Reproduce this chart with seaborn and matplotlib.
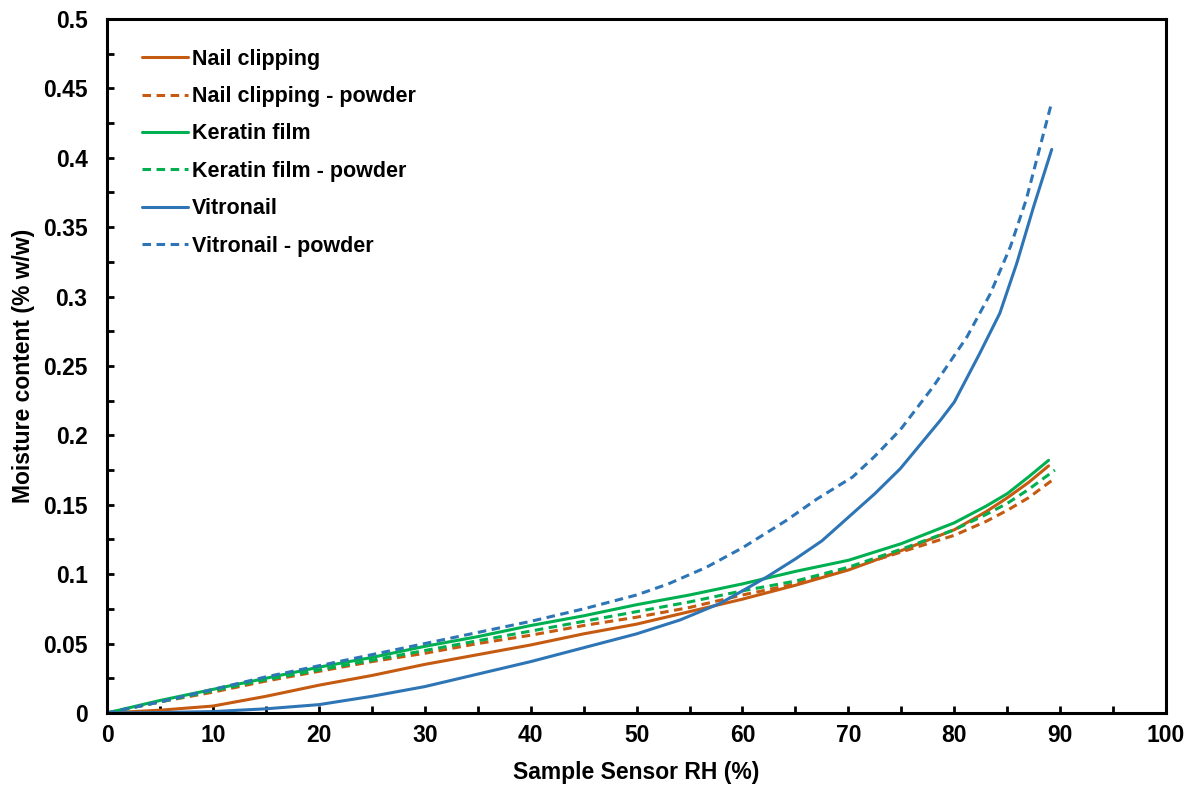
import pandas as pd
import matplotlib.pyplot as plt
from matplotlib.ticker import MultipleLocator
import seaborn as sns

# RH (%) sample points and moisture content (% w/w)
rh_nail = [0, 5, 10, 15, 20, 25, 30, 35, 40, 45, 50, 55, 60, 65, 70, 75, 80, 83, 85, 87, 88.9]
nail = [0, 0.002, 0.005, 0.012, 0.020, 0.027, 0.035, 0.042, 0.049, 0.057, 0.064,
        0.073, 0.082, 0.092, 0.103, 0.117, 0.132, 0.145, 0.155, 0.166, 0.178]

rh_nail_p = [0, 5, 10, 15, 20, 25, 30, 35, 40, 45, 50, 55, 60, 65, 70, 75, 80, 83, 85, 87, 89.3]
nail_p = [0, 0.008, 0.015, 0.023, 0.030, 0.037, 0.043, 0.050, 0.056, 0.063, 0.069,
          0.076, 0.085, 0.093, 0.104, 0.116, 0.128, 0.138, 0.146, 0.155, 0.168]

rh_ker = [0, 5, 10, 15, 20, 25, 30, 35, 40, 45, 50, 55, 60, 65, 70, 75, 80, 83, 85, 87, 88.9]
ker = [0, 0.009, 0.017, 0.025, 0.033, 0.040, 0.048, 0.055, 0.063, 0.070, 0.078,
       0.085, 0.093, 0.102, 0.110, 0.122, 0.137, 0.149, 0.158, 0.170, 0.182]

rh_ker_p = [0, 5, 10, 15, 20, 25, 30, 35, 40, 45, 50, 55, 60, 65, 70, 75, 80, 83, 85, 87, 89.5]
ker_p = [0, 0.008, 0.016, 0.024, 0.031, 0.038, 0.045, 0.052, 0.059, 0.066, 0.073,
         0.080, 0.088, 0.095, 0.105, 0.118, 0.132, 0.143, 0.151, 0.161, 0.175]

rh_vit = [0, 5, 10, 15, 20, 25, 30, 35, 40, 45, 50, 54.1, 57.9, 60, 62.3, 65, 67.5, 70,
          72.5, 74.9, 78.7, 80, 82.4, 84.3, 85.9, 87.5, 89.2]
vit = [0, 0.0003, 0.001, 0.003, 0.006, 0.012, 0.019, 0.028, 0.037, 0.047, 0.057, 0.067,
       0.079, 0.088, 0.098, 0.111, 0.124, 0.141, 0.158, 0.176, 0.211, 0.224, 0.259,
       0.288, 0.324, 0.365, 0.406]

rh_vit_p = [0, 5, 10, 15, 20, 25, 30, 35, 40, 45, 50, 53, 56.6, 60, 64.2, 67, 70.4,
            72.5, 74.9, 78, 81.2, 83.4, 85.3, 86.8, 88.1, 89.2]
vit_p = [0, 0.008, 0.017, 0.026, 0.034, 0.042, 0.050, 0.058, 0.066, 0.075, 0.085, 0.093,
         0.105, 0.119, 0.139, 0.154, 0.170, 0.185, 0.204, 0.235, 0.271, 0.302, 0.336,
         0.370, 0.408, 0.440]

series = [
    ('Nail clipping', rh_nail, nail, '#C55A11', '-'),
    ('Nail clipping - powder', rh_nail_p, nail_p, '#C55A11', '--'),
    ('Keratin film', rh_ker, ker, '#00B050', '-'),
    ('Keratin film - powder', rh_ker_p, ker_p, '#00B050', '--'),
    ('Vitronail', rh_vit, vit, '#2E75B6', '-'),
    ('Vitronail - powder', rh_vit_p, vit_p, '#2E75B6', '--'),
]

sns.set_style("ticks")
plt.rcParams['font.family'] = ['Liberation Sans', 'DejaVu Sans']
plt.rcParams['font.weight'] = 'bold'
plt.rcParams['text.color'] = 'black'
plt.rcParams['axes.labelcolor'] = 'black'
plt.rcParams['xtick.color'] = 'black'
plt.rcParams['ytick.color'] = 'black'

fig = plt.figure(figsize=(11.96, 7.9), dpi=100)
ax = fig.add_axes([0.0895, 0.0975, 0.8855, 0.8785])

for name, x, y, color, ls in series:
    df = pd.DataFrame({'rh': x, 'mc': y})
    sns.lineplot(data=df, x='rh', y='mc', ax=ax, color=color, linewidth=2.2,
                 label=name, errorbar=None)
    if ls == '--':
        ax.lines[-1].set_dashes((2.8, 1.8))

ax.set_xlim(0, 100)
ax.set_ylim(0, 0.5)
ax.xaxis.set_major_locator(MultipleLocator(10))
ax.xaxis.set_minor_locator(MultipleLocator(5))
ax.yaxis.set_minor_locator(MultipleLocator(0.025))
ax.set_yticks([0, 0.05, 0.1, 0.15, 0.2, 0.25, 0.3, 0.35, 0.4, 0.45, 0.5])
ax.set_yticklabels(['0', '0.05', '0.1', '0.15', '0.2', '0.25', '0.3', '0.35', '0.4', '0.45', '0.5'])
ax.tick_params(which='both', direction='in', width=2, length=5, labelsize=16.5)
ax.tick_params(axis='y', pad=14)
ax.tick_params(axis='x', pad=8)
for s in ax.spines.values():
    s.set_linewidth(2.2)
    s.set_color('black')

ax.set_xlabel('Sample Sensor RH (%)', fontsize=16.5, fontweight='bold', labelpad=10)
ax.set_ylabel('Moisture content (% w/w)', fontsize=16.5, fontweight='bold', labelpad=6)

leg = ax.legend(loc='upper left', bbox_to_anchor=(0.015, 0.985), frameon=False,
                fontsize=15.5, handlelength=2.1, handletextpad=0.2, labelspacing=0.76)
for t in leg.get_texts():
    t.set_fontweight('bold')

plt.savefig('out.png', dpi=100)
plt.close()
